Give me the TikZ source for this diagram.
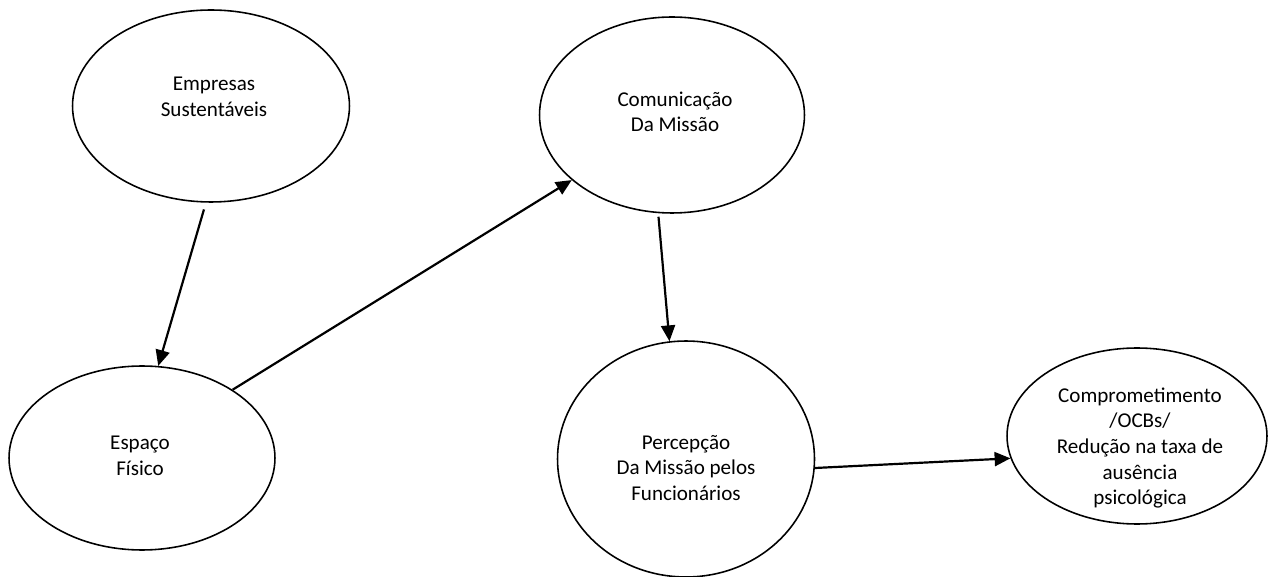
\documentclass[tikz,border=0pt]{standalone}
\usepackage{fontspec}
\setmainfont{Carlito}
\usepackage{tikz}
\usetikzlibrary{shapes.geometric, arrows.meta}

\begin{document}
\begin{tikzpicture}[x=0.02cm, y=-0.02cm,
    bolha/.style={ellipse, draw, line width=0.9pt, inner sep=0pt},
    texto/.style={align=center, inner sep=0pt, font=\fontsize{12}{14.6}\selectfont},
    seta/.style={-{Triangle[length=9pt, width=8pt]}, line width=1.25pt}]
    \useasboundingbox (0,0) rectangle (1268,577);

    % Ellipses
    \node[bolha, minimum width=5.54cm, minimum height=3.84cm] (emp) at (211,106) {};
    \node[bolha, minimum width=5.3cm, minimum height=3.92cm] (com) at (672,115) {};
    \node[bolha, minimum width=5.32cm, minimum height=3.68cm] (esp) at (142,458) {};
    \node[bolha, minimum width=5.14cm, minimum height=4.72cm] (per) at (686,459) {};
    \node[bolha, minimum width=5.2cm, minimum height=3.52cm] (cmp) at (1137,436) {};

    % Texts
    \node[texto] (emp-t) at (214,97) {Empresas\\Sustentáveis};
    \node[texto] (com-t) at (675,112) {Comunicação\\Da Missão};
    \node[texto] (esp-t) at (140,456) {Espaço\\Físico};
    \node[texto] (per-t) at (686,468) {Percepção\\Da Missão pelos\\Funcionários};
    \node[texto] (cmp-t) at (1140,448) {Comprometimento\\/OCBs/\\Redução na taxa de\\ausência\\psicológica};

    % Arrows
    \draw[seta, shorten <=4pt] (emp.-93) -- (esp.80);
    \draw[seta] (esp.37.5) -- (com.213.7);
    \draw[seta, shorten <=2pt] (com.-98.4) -- (per.98.7);
    \draw[seta] (per.-4) -- (cmp.190.5);
\end{tikzpicture}
\end{document}
